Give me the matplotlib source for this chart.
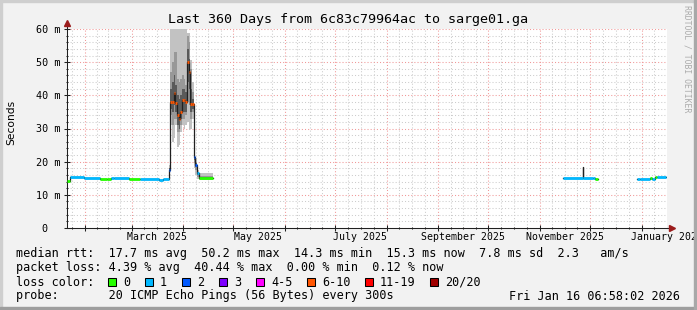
import numpy as np
import matplotlib
matplotlib.use("Agg")
import matplotlib.pyplot as plt
import matplotlib.dates as mdates
from matplotlib.patches import Rectangle
from matplotlib.ticker import MultipleLocator, FixedLocator, NullFormatter, FuncFormatter

W, H = 697, 310
MONO = "DejaVu Sans Mono"
plt.rcParams["font.family"] = [MONO, "DejaVu Sans"]

title = "Last 360 Days from 6c83c79964ac to sarge01.ga"
t_start = np.datetime64("2025-01-21T06:58:02")
t_end = np.datetime64("2026-01-16T06:58:02")

# median rtt steps: start day (from t_start), value in ms, loss class (-1 = gap follows)
nan = float("nan")
step_day = [0, 2, 10, 20, 24, 26.5, 28, 37, 44, 55, 57.5, 61,
            62, 63, 64, 65, 66, 67, 68, 69, 70, 71, 72, 73, 74, 75,
            76, 77, 78, 79, 87.6,
            297.6, 309.3, 309.9, 315.5, 317, 318.6,
            342, 343.8, 350, 351, 353, 354, 359.4]
median_ms = [14.3, 15.3, 15.2, 14.8, 14.9, 15.2, 15.0, 14.9, 14.9, 14.4, 14.9, 17.5,
             38.0, 38.1, 40.8, 37.6, 34.0, 32.8, 35.1, 38.6, 38.6, 38.1, 50.1, 47.1, 37.4, 37.4,
             21.5, 19.0, 16.5, 15.0, nan,
             15.1, 18.5, 15.0, 15.1, 14.9, nan,
             14.7, 14.9, 15.0, 14.9, 15.3, 15.3, nan]
loss_class = [0, 1, 1, 0, 0, 1, 1, 0, 1, 1, 1, 2,
              5, 5, 5, 5, 5, 5, 5, 5, 5, 5, 5, 5, 5, 5,
              2, 2, 1, 0, -1,
              1, 1, 1, 1, 0, -1,
              1, 1, 0, 1, 0, 1, -1]

# smoke (spread of the 20 pings) around the March outage
smoke_day = [61, 62, 63, 64, 65, 66, 67, 68, 69, 70, 71, 72, 73, 74, 75, 76, 77, 78, 79, 87.6]
smoke_min = [15.5, 31, 26, 27, 31, 24.5, 25, 29, 31, 30, 31, 32, 29.5, 30, 33, 18, 16, 14.8, 14.4, 14.4]
smoke_max = [19, 68, 68, 68, 68, 68, 68, 68, 68, 68, 60.5, 58.7, 58.7, 50.6, 44, 23, 21, 17.5, 16.6, 16.6]
smoke_q1 = [16.5, 34, 31, 33, 33, 29, 29, 31, 33, 33, 34, 38, 37, 33, 35, 19.5, 17.5, 15.5, 14.7, 14.7]
smoke_q3 = [18.2, 47, 50, 53, 53, 45, 44, 45, 46, 45, 43, 58, 56, 48, 41, 22.5, 20, 17, 15.6, 15.6]
smoke_c1 = [17, 36, 35, 37, 35, 31, 30, 33, 35, 35, 35, 44, 42, 35, 36, 20.5, 18.5, 16, 14.9, 14.9]
smoke_c2 = [18, 42, 44, 46, 43, 40, 39, 40, 42, 42, 41, 54, 51, 42, 39, 22, 19.5, 16.8, 15.3, 15.3]

loss_labels = ["0", "1", "2", "3", "4-5", "6-10", "11-19", "20/20"]
loss_colors = ["#26ff00", "#00b8ff", "#0059ff", "#7e00ff", "#ff00ff", "#ff5500", "#ff0000", "#a10000"]

label_dates = ["2025-03-16", "2025-05-16", "2025-07-16", "2025-09-16", "2025-11-16", "2026-01-16"]
label_text = ["March 2025", "May 2025", "July 2025", "September 2025", "November 2025", "January 2026"]

stats_rtt = "median rtt:  17.7 ms avg  50.2 ms max  14.3 ms min  15.3 ms now  7.8 ms sd  2.3   am/s"
stats_loss = "packet loss: 4.39 % avg  40.44 % max  0.00 % min  0.12 % now"
probe_text = "probe:       20 ICMP Echo Pings (56 Bytes) every 300s"
stamp_text = "Fri Jan 16 06:58:02 2026"


def days_to_num(d):
    secs = (np.asarray(d, dtype=float) * 86400).astype("int64").astype("timedelta64[s]")
    return mdates.date2num(t_start + secs)


def fx(px):
    return px / W


def fy(py):
    return 1 - py / H


def ylab(v, p):
    # rrdtool pads the zero label where the unit would be
    if v == 0:
        return "0\u2007\u2007"
    return "%d m" % v


fig = plt.figure(figsize=(W / 100, H / 100), dpi=100, facecolor="#f2f2f2")
ax = fig.add_axes([fx(67), 82 / H, 600 / W, 199 / H])
ax.set_facecolor("white")
ax.set_axisbelow(True)

# smoke
sx = days_to_num(smoke_day)
ax.fill_between(sx, smoke_min, smoke_max, step="post", color="#c2c2c2", lw=0, zorder=2)
ax.fill_between(sx, smoke_q1, smoke_q3, step="post", color="#989898", lw=0, zorder=2)
ax.fill_between(sx, smoke_c1, smoke_c2, step="post", color="#5a5a5a", lw=0, zorder=2)

# median line, dark base plus loss coloured steps
mx = days_to_num(step_day)
ax.plot(mx, median_ms, drawstyle="steps-post", color="#202020", lw=0.9, zorder=3)
for i in range(len(step_day) - 1):
    if loss_class[i] >= 0:
        ax.hlines(median_ms[i], mx[i], mx[i + 1], color=loss_colors[loss_class[i]], lw=2.0, zorder=4)

ax.set_xlim(mdates.date2num(t_start), mdates.date2num(t_end))
ax.set_ylim(0, 60)

# month lines and quarter-month minor lines
month_starts = np.arange("2025-01", "2026-03", dtype="datetime64[M]").astype("datetime64[s]")
quarters = []
for a, b in zip(month_starts[:-1], month_starts[1:]):
    step = (b - a) / 4
    quarters += [a + k * step for k in (1, 2, 3)]
ax.xaxis.set_major_locator(FixedLocator(mdates.date2num(month_starts)))
ax.xaxis.set_minor_locator(FixedLocator(mdates.date2num(np.array(quarters))))
ax.xaxis.set_major_formatter(NullFormatter())
ax.yaxis.set_major_locator(MultipleLocator(10))
ax.yaxis.set_minor_locator(MultipleLocator(2))
ax.yaxis.set_major_formatter(FuncFormatter(ylab))

ax.grid(which="major", color="#f09898", linestyle=(0, (1, 2)), lw=0.75)
ax.grid(which="minor", color="#cccccc", linestyle=(0, (1, 2)), lw=0.75)

ax.tick_params(which="both", direction="inout", color="#202020", width=0.75)
ax.tick_params(which="major", length=4)
ax.tick_params(which="minor", length=2)
ax.tick_params(axis="y", labelsize=7.3, pad=3)

for s in ("top", "right"):
    ax.spines[s].set_visible(False)
for s in ("left", "bottom"):
    ax.spines[s].set_color("#202020")
    ax.spines[s].set_linewidth(0.75)

# axis arrows
ax.plot([0, 0], [1, 1 + 5 / 199], transform=ax.transAxes, color="#202020", lw=0.75, clip_on=False)
ax.plot([0], [1 + 6 / 199], marker="^", ms=4, color="#9b1b1b", transform=ax.transAxes, clip_on=False)
ax.plot([1, 1 + 4 / 600], [0, 0], transform=ax.transAxes, color="#202020", lw=0.75, clip_on=False)
ax.plot([1 + 5 / 600], [0], marker=">", ms=4, color="#9b1b1b", transform=ax.transAxes, clip_on=False)

# month labels centred in their month
sec = ax.secondary_xaxis("bottom")
sec.set_xticks(mdates.date2num(np.array(label_dates, dtype="datetime64[s]")), labels=label_text)
sec.tick_params(length=0, pad=3, labelsize=7.1)
sec.spines["bottom"].set_visible(False)

fig.text(fx(348), fy(19), title, ha="center", va="center", size=9.6)
fig.text(fx(11), fy(122), "Seconds", rotation=90, ha="center", va="center", size=7.7,
         family="DejaVu Sans")
fig.text(fx(687), fy(5), "RRDTOOL / TOBI OETIKER", rotation=270, ha="center", va="top",
         size=5.9, color="#ababab")

LS = 8.45
CW = 7.0
fig.text(fx(16), fy(254), stats_rtt, ha="left", va="center", size=LS)
fig.text(fx(16), fy(268), stats_loss, ha="left", va="center", size=LS)
fig.text(fx(16), fy(282), "loss color:", ha="left", va="center", size=LS)
x = 108
for lab, col in zip(loss_labels, loss_colors):
    fig.add_artist(Rectangle((fx(x), fy(286)), 8 / W, 8 / H, transform=fig.transFigure,
                             facecolor=col, edgecolor="black", lw=0.75))
    fig.text(fx(x + 15), fy(282), lab, ha="left", va="center", size=LS)
    x = x + 15 + len(lab) * CW + 15
fig.text(fx(16), fy(296), probe_text, ha="left", va="center", size=LS)
fig.text(fx(680), fy(296), stamp_text, ha="right", va="center", size=LS)

# 3d frame
fig.add_artist(Rectangle((0, 1 - 2 / H), 1, 2 / H, transform=fig.transFigure, color="#cfcfcf"))
fig.add_artist(Rectangle((0, 0), 2 / W, 1, transform=fig.transFigure, color="#cfcfcf"))
fig.add_artist(Rectangle((0, 0), 1, 3 / H, transform=fig.transFigure, color="#9e9e9e"))
fig.add_artist(Rectangle((1 - 3 / W, 0), 3 / W, 1, transform=fig.transFigure, color="#a8a8a8"))

fig.savefig("out.png", dpi=100, facecolor=fig.get_facecolor())
